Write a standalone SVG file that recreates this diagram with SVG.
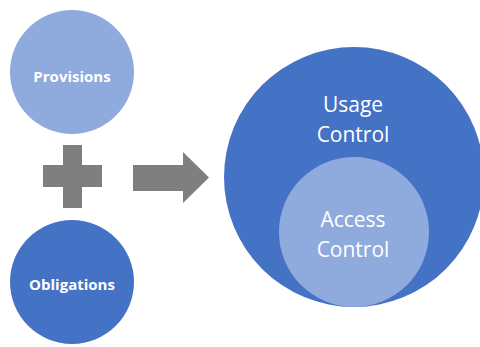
<svg xmlns="http://www.w3.org/2000/svg" width="480" height="347" viewBox="0 0 480 347">
  <style>
    .light { fill: #8FAADC; }
    .dark { fill: #4472C4; }
    .sym { fill: #7F7F7F; }
    .small { font-family: "Open Sans", "Liberation Sans", sans-serif; font-weight: bold; font-size: 15px; fill: #FFFFFF; text-anchor: middle; }
    .big { font-family: "Open Sans", "Liberation Sans", sans-serif; font-size: 21px; fill: #FFFFFF; text-anchor: middle; }
  </style>
  <rect width="480" height="347" fill="#FFFFFF"/>

  <g id="provisions">
    <circle class="light" cx="72" cy="72" r="62"/>
    <text class="small" x="72" y="82">Provisions</text>
  </g>

  <g id="obligations">
    <circle class="dark" cx="72" cy="282" r="62"/>
    <text class="small" x="72" y="290">Obligations</text>
  </g>

  <g id="connectors">
    <!-- plus sign -->
    <path class="sym" d="M63,145 H82 V165 H102 V187 H82 V208 H63 V187 H43 V165 H63 Z"/>
    <!-- block arrow -->
    <path class="sym" d="M133,165 H183 V152 L209,177.5 L183,203 V191 H133 Z"/>
  </g>

  <g id="usage-control">
    <circle class="dark" cx="354" cy="177" r="130"/>
    <text class="big" x="353" y="112">Usage</text>
    <text class="big" x="353" y="142">Control</text>
  </g>

  <g id="access-control">
    <circle class="light" cx="354" cy="232" r="75"/>
    <text class="big" x="353" y="227">Access</text>
    <text class="big" x="353" y="257">Control</text>
  </g>
</svg>
